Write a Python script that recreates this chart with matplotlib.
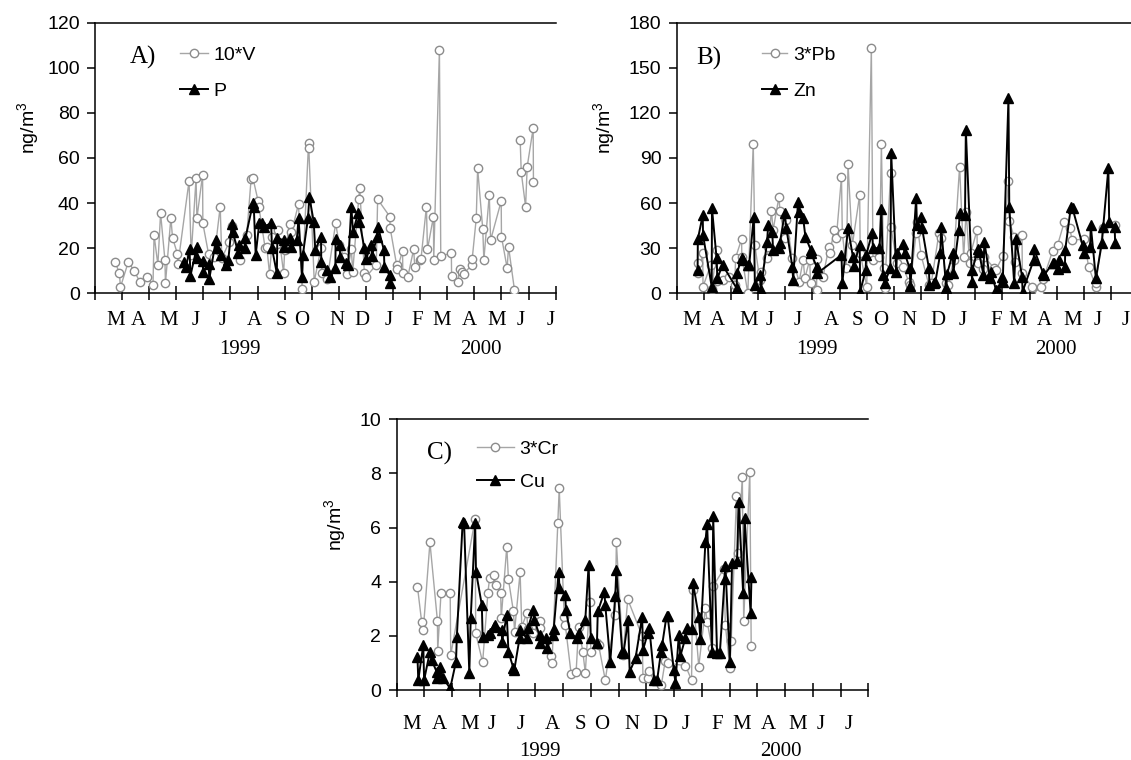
import numpy as np
import matplotlib
matplotlib.use('Agg')
import matplotlib.pyplot as plt

# x values are in months from the left axis edge (0 = start, 17 = end)
# panel A: 10*V and P
v_x = [0.74, 0.90, 0.94, 1.23, 1.44, 1.66, 1.92, 2.14, 2.18, 2.32, 2.42, 2.58, 2.60, 2.80, 2.86, 3.04, 3.06,
       3.47, 3.55, 3.73, 3.76, 3.97, 3.98, 4.19, 4.40, 4.62, 4.68, 4.96, 5.05, 5.36, 5.60, 5.76, 5.83, 6.02,
       6.05, 6.28, 6.34, 6.44, 6.55, 6.70, 6.76, 6.96, 7.00, 7.20, 7.25, 7.51, 7.64, 7.88, 7.89, 8.09, 8.34,
       8.38, 8.57, 8.88, 9.02, 9.18, 9.30, 9.46, 9.51, 9.73, 9.77, 9.94, 9.99, 10.38, 10.43, 10.88, 10.89,
       11.13, 11.15, 11.35, 11.36, 11.54, 11.76, 11.80, 12.01, 12.03, 12.23, 12.27, 12.49, 12.50, 12.71,
       12.76, 13.15, 13.16, 13.39, 13.46, 13.55, 13.61, 13.90, 13.92, 14.07, 14.12, 14.31, 14.35, 14.55,
       14.60, 14.99, 15.00, 15.21, 15.26, 15.48, 15.60, 15.69, 15.73, 15.89, 15.95, 16.17, 16.18]
v_y = [14, 8.9, 2.7, 14, 10, 5, 7.1, 3.7, 25.9, 12.6, 35.5, 14.8, 4.4, 33.5, 24.7, 17.5, 12.8,
       49.8, 17, 51, 33.3, 52.5, 31, 17.5, 16, 38.4, 15.5, 22.9, 30, 14.8, 25.9, 50.7, 51, 40.9,
       38.1, 20, 20.7, 8.6, 25, 22, 28, 8.9, 19.2, 30.7, 27, 39.6, 2, 66.8, 64.3, 5.2, 20,
       8.9, 6.2, 31, 21.4, 16.3, 8.6, 19.5, 9.6, 41.7, 46.6, 9.2, 7.1, 12.6, 41.7, 34, 29.1,
       12.6, 10.6, 18.8, 8.9, 7.1, 19.5, 11.8, 14.8, 15.2, 38.4, 19.5, 34, 14.8, 107.9,
       16.6, 17.7, 7.7, 5.2, 10.6, 9.6, 8.6, 12.6, 15.2, 33.3, 55.4, 28.4, 14.8, 43.6,
       23.6, 40.9, 25.1, 11.1, 20.7, 1.5, np.nan, 68, 53.7, 38.4, 56.2, 73.2, 49.4]
p_x = [3.30, 3.36, 3.49, 3.52, 3.76, 3.78, 3.97, 3.99, 4.19, 4.22, 4.46, 4.49, 4.66, 4.84, 4.92, 5.05,
       5.08, 5.29, 5.31, 5.53, 5.55, 5.83, 5.86, 5.93, 6.06, 6.17, 6.22, 6.50, 6.53, 6.71, 6.73, 6.96,
       6.98, 7.21, 7.23, 7.45, 7.51, 7.64, 7.67, 7.86, 7.91, 8.07, 8.13, 8.34, 8.35, 8.56, 8.66, 8.87,
       8.88, 9.03, 9.05, 9.28, 9.34, 9.46, 9.52, 9.71, 9.76, 9.94, 10.00, 10.19, 10.22, 10.41, 10.44,
       10.66, 10.68, 10.87, 10.88]
p_y = [14, 11.8, 19.5, 7.7, 20.5, 15.5, 14.5, 9.5, 13, 6.5, 23.5, 20, 17, 12.6, 14.8, 30.7,
       27.3, 17.7, 21.4, 20, 24.4, 40, 38.4, 17, 31, 31, 29.6, 31, 20, 8.9, 24.4, 23.6,
       20.7, 24.4, 20.7, 23.6, 33.3, 7.4, 17, 33.3, 42.9, 31.8, 19.2, 25.1, 14, 10.3, 7.4, 11.1,
       23.9, 21.4, 16, 13.3, 12.6, 38.4, 27.3, 35.5, 31.8, 20, 15.1, 21.4, 16.6, 25.1, 29.6,
       19.2, 11.8, 8.1, 4.7]

# panel B: 3*Pb and Zn
pb_x = [0.77, 0.80, 0.96, 0.97, 1.25, 1.29, 1.47, 1.50, 1.72, 1.94, 2.14, 2.17, 2.39, 2.40, 2.62, 2.82,
        2.88, 3.06, 3.12, 3.33, 3.37, 3.49, 3.55, 3.77, 3.80, 3.98, 4.04, 4.26, 4.51, 4.66, 4.72, 4.90,
        4.93, 5.15, 5.17, 5.39, 5.61, 5.64, 5.80, 5.88, 6.07, 6.10, 6.25, 6.31, 6.47, 6.74, 6.76, 7.00,
        7.17, 7.23, 7.47, 7.54, 7.62, 7.66, 7.88, 7.89, 8.11, 8.33, 8.55, 8.60, 8.82, 8.85, 9.00, 9.29,
        9.38, 9.66, 9.74, 9.93, 9.99, 10.20, 10.42, 10.57, 10.66, 10.79, 10.83, 11.06, 11.08, 11.29,
        11.32, 11.70, 11.76, 12.01, 12.22, 12.25, 12.43, 12.46, 12.72, 12.73, 13.09, 13.36, 13.42,
        13.50, 13.85, 14.03, 14.28, 14.48, 14.56, 15.01, 15.17, 15.44, 15.45, 15.69, 16.15]
pb_y = [20, 13.3, 26.6, 4.4, 18.8, 2.7, 28.8, 8, 8.9, 11.1, 5.5, 23.7, 36, 24.4, 0, 99.3,
        32.1, 8.9, 14.4, 23.3, 31, 55, 42, 64.3, 55, 36.6, 48.8, 23.3, 7.8, 22.2, 10, 22.2,
        6.7, 2.2, 22.6, 11.1, 31, 26.6, 42.1, 36.6, 77.6, 40, 16.6, 86, 32.1, 65.4, 26.6, 4.4,
        163.4, 22.2, 24.4, 99.1, 16.6, 3.3, 79.8, 44.3, 20, 17.7, 7.8, 5.5, 40, 47.7, 25.5, 5.5,
        7.1, 40, 36.6, 7.1, 5.5, 22.2, 84.2, 23.9, 54.3, 20, 26.6, 42.1, 20, 16,
        24.4, 16.6, 15.5, 24.8, 74.7, 48.3, 37.2, 21, 38.8, 13.3, 4, 0, 4.4,
        9.3, 28.4, 32.1, 47.7, 43.2, 35.5, 35.9, 17.7, 4.4, 6.7, 43.2, 45.4]
zn_x = [0.77, 0.78, 0.96, 0.97, 1.29, 1.30, 1.47, 1.50, 1.69, 2.21, 2.22, 2.39, 2.43, 2.63, 2.67, 2.84,
        2.88, 3.06, 3.10, 3.33, 3.37, 3.52, 3.55, 3.77, 3.80, 3.98, 4.04, 4.26, 4.29, 4.47, 4.51, 4.66,
        4.74, 4.94, 4.96, 5.15, 5.18, 6.07, 6.10, 6.31, 6.49, 6.52, 6.74, 6.76, 6.96, 6.98, 7.20, 7.23,
        7.47, 7.54, 7.60, 7.66, 7.87, 7.90, 8.09, 8.11, 8.33, 8.40, 8.58, 8.61, 8.82, 8.85, 9.00, 9.04,
        9.29, 9.31, 9.49, 9.53, 9.71, 9.74, 9.93, 9.96, 10.17, 10.19, 10.39, 10.42, 10.62, 10.65,
        10.88, 10.89, 11.09, 11.13, 11.30, 11.33, 11.54, 11.58, 11.76, 11.82, 11.99, 12.01, 12.22,
        12.25, 12.43, 12.50, 12.72, 12.74, 13.15, 13.16, 13.50, 13.54, 13.85, 13.91, 14.03, 14.09,
        14.30, 14.31, 14.52, 14.58, 14.95, 15.01, 15.23, 15.25, 15.44, 15.66, 15.71, 15.90, 15.93,
        16.13, 16.15]
zn_y = [15.5, 36, 52.1, 38.8, 4.4, 56.5, 23.3, 10, 18.8, 3.3, 13.3, 23.3, 22.2, 18.8, 18.8, 51,
        5.5, 12.2, 2.2, 34.4, 45.4, 41, 28.8, 30, 33.3, 53.2, 43.2, 17.7, 8.9, 61, 54.3, 49.9,
        37.7, 28.8, 26.6, 17.7, 13.3, 25.5, 6.7, 43.2, 24.4, 18.2, 32.1, 1.1, 15.5, 25.5, 40, 30,
        30, 55.9, 12.2, 7.1, 16.6, 93.6, 14.4, 26.6, 32.8, 26.6, 16.6, 4.9, 63.2, 45.4, 51, 43.2,
        16.6, 5.5, 6.7, 7.8, 26.6, 44.3, 3.3, 12.9, 26.6, 13.7, 42.1, 53.2, 52.1, 108.6,
        7.8, 15.5, 29.3, 27.7, 12.2, 34.4, 10, 14.4, 2.2, 2.2, 11.1, 7.8, 129.7,
        57.6, 6.7, 35.9, 11.1, 1.1, 22.2, 29.3, 13.3, 12.2, 20, 20, 16, 22.2,
        17.7, 28.8, 57.6, 56.5, 32.1, 26.6, 30.6, 45.4, 10, 33.3, 44.3, 83.1, 47.7,
        44.3, 33.7]

# panel C: 3*Cr and Cu
cr_x = [0.75, 0.90, 0.96, 1.20, 1.47, 1.48, 1.60, 1.93, 1.95, 2.83, 2.85, 3.10, 3.29, 3.35, 3.51, 3.57,
        3.75, 3.77, 3.97, 4.03, 4.21, 4.25, 4.45, 4.51, 4.69, 4.73, 4.93, 5.15, 5.17, 5.57, 5.60, 5.81,
        5.86, 6.04, 6.08, 6.29, 6.47, 6.56, 6.71, 6.80, 6.96, 7.00, 7.22, 7.28, 7.52, 7.88, 7.92, 8.16,
        8.33, 8.85, 8.88, 9.05, 9.11, 9.54, 9.68, 9.77, 10.41, 10.63, 10.67, 10.89, 11.13, 11.19,
        11.37, 11.41, 11.79, 11.85, 12.01, 12.06, 12.25, 12.31, 12.46, 12.51, 12.73, 12.78]
cr_y = [3.82, 2.53, 2.22, 5.45, 2.56, 1.44, 3.6, 3.6, 1.3, 6.32, 2.1, 1.02, 3.6, 4.13, 4.23, 3.88,
        3.6, 2.65, 5.3, 4.09, 2.9, 2.16, 4.35, 2.34, 2.83, 2.24, 2.1, 2.56, 2.28, 1.26, 1.01, 6.18,
        7.45, 2.7, 2.4, 0.59, 0.68, 2.32, 1.42, 0.64, 3.26, 1.42, 1.72, 1.66, 0.37, 2.77, 5.45, 1.29,
        3.35, 2.0, 0.43, 0.43, 0.7, 0.18, 1.07, 0.99, 0.9, 0.37, 3.7, 0.86, 3.02, 2.53,
        1.54, 3.84, 4.47, 2.4, 0.8, 1.82, 7.17, 5.05, 7.88, 2.56, 8.07, 1.63]
cu_x = [0.75, 0.78, 0.96, 0.99, 1.20, 1.26, 1.44, 1.47, 1.56, 1.68, 1.93, 2.14, 2.17, 2.38, 2.43, 2.62,
        2.67, 2.83, 2.86, 3.07, 3.10, 3.31, 3.35, 3.51, 3.55, 3.79, 3.80, 3.97, 4.03, 4.21, 4.24, 4.43,
        4.45, 4.69, 4.73, 4.93, 4.96, 5.15, 5.17, 5.39, 5.42, 5.62, 5.66, 5.84, 5.87, 6.08, 6.10, 6.26,
        6.50, 6.56, 6.80, 6.92, 7.00, 7.22, 7.25, 7.49, 7.52, 7.70, 7.88, 7.92, 8.13, 8.18, 8.34, 8.40,
        8.61, 8.85, 8.88, 9.05, 9.11, 9.29, 9.39, 9.53, 9.57, 9.73, 9.77, 9.99, 10.05, 10.17, 10.23,
        10.41, 10.47, 10.65, 10.68, 10.89, 10.95, 11.13, 11.19, 11.37, 11.41, 11.55, 11.65, 11.82,
        11.85, 12.01, 12.09, 12.27, 12.33, 12.49, 12.54, 12.76, 12.79]
cu_y = [1.23, 0.37, 1.66, 0.37, 1.42, 1.11, 0.68, 0.43, 0.86, 0.43, 0.06, 1.05, 1.97, 6.22, 6.16, 0.62,
        2.65, 6.16, 4.37, 3.14, 1.97, 2.03, 2.1, 2.34, 2.4, 2.22, 1.79, 2.77, 1.42, 0.8, 0.74, 1.91,
        2.22, 1.91, 2.28, 2.96, 2.59, 2.03, 1.72, 1.91, 1.54, 2.03, 2.24, 4.37, 3.76, 3.51, 2.96, 2.1,
        1.91, 2.1, 2.59, 4.62, 1.91, 1.72, 2.9, 3.63, 3.14, 1.05, 3.47, 4.44, 1.42, 1.38, 2.59, 0.68,
        1.17, 2.71, 1.48, 2.09, 2.28, 0.37, 0.37, 1.42, 1.66, 2.75, 2.73, 0.74, 0.27, 2.03, 1.27,
        1.93, 2.28, 2.24, 3.97, 2.71, 1.87, 5.48, 6.14, 1.42, 6.41, 1.36, 1.36, 4.09,
        4.58, 1.05, 4.68, 4.77, 6.94, 3.57, 6.37, 2.83, 4.16]

months = ['M', 'A', 'M', 'J', 'J', 'A', 'S', 'O', 'N', 'D', 'J', 'F', 'M', 'A', 'M', 'J', 'J']
# where the month letters sit under each panel (in months)
pos_a = [0.78, 1.60, 2.73, 3.70, 4.72, 5.89, 6.87, 7.64, 8.93, 9.86, 10.82, 11.89, 12.81, 13.82, 14.84, 15.71, 16.82]
pos_b = [0.55, 1.51, 2.64, 3.43, 4.47, 5.71, 6.67, 7.50, 8.55, 9.62, 10.54, 11.76, 12.56, 13.54, 14.58, 15.50, 16.54]
pos_c = [0.54, 1.54, 2.62, 3.43, 4.48, 5.63, 6.62, 7.40, 8.48, 9.48, 10.43, 11.55, 12.43, 13.39, 14.44, 15.28, 16.28]

plt.rcParams['font.family'] = ['Liberation Sans', 'DejaVu Sans']
plt.rcParams['mathtext.fontset'] = 'custom'
plt.rcParams['mathtext.rm'] = 'Liberation Sans'
serif = ['Liberation Serif', 'DejaVu Serif']

fig = plt.figure(figsize=(11.31, 7.6), dpi=100)
axA = fig.add_axes([0.0840, 0.6141, 0.4073, 0.3561])
axB = fig.add_axes([0.5983, 0.6141, 0.4081, 0.3561])
axC = fig.add_axes([0.3507, 0.0921, 0.4170, 0.3562])


def panel(ax, gx, gy, gname, bx, by, bname, ymax, ystep, letter, mpos,
          years, ylet, yyear, lab_xy, leg_xy, hlen, lsp):
    ax.plot(gx, gy, color='#a6a6a6', lw=1.0, marker='o', ms=6, mfc='white',
            mec='#8c8c8c', mew=1.0, label=gname, zorder=3)
    ax.plot(bx, by, color='black', lw=1.4, marker='^', ms=7, mfc='black',
            mec='black', label=bname, zorder=4)
    ax.set_xlim(0, 17)
    ax.set_ylim(0, ymax)
    ax.set_xticks(np.arange(0, 18))
    ax.set_xticklabels([])
    ax.set_yticks(np.arange(0, ymax + 1, ystep))
    ax.tick_params(axis='x', direction='inout', length=10, width=1.1)
    ax.tick_params(axis='y', direction='out', length=6, width=1.1, labelsize=14, pad=5)
    ax.spines['right'].set_visible(False)
    for s in ['top', 'bottom', 'left']:
        ax.spines[s].set_linewidth(1.1)
    tr = ax.get_xaxis_transform()
    for m, p in zip(months, mpos):
        ax.text(p, ylet, m, transform=tr, ha='center', va='center',
                fontsize=15, family=serif, clip_on=False)
    for yr, p in years:
        ax.text(p, yyear, yr, transform=tr, ha='center', va='center',
                fontsize=15, family=serif)
    ax.text(lab_xy[0], lab_xy[1], letter, transform=ax.transAxes, ha='center',
            va='center', fontsize=18, family=serif)
    ax.legend(loc='upper left', bbox_to_anchor=leg_xy, frameon=False, fontsize=14,
              handlelength=hlen, handletextpad=0.3, labelspacing=lsp, borderpad=0,
              borderaxespad=0, numpoints=1)


panel(axA, v_x, v_y, '10*V', p_x, p_y, 'P', 120, 20, 'A)', pos_a,
      [('1999', 5.35), ('2000', 14.25)], -0.10, -0.207, (0.103, 0.872), (0.184, 0.913), 1.45, 0.95)
panel(axB, pb_x, pb_y, '3*Pb', zn_x, zn_y, 'Zn', 180, 30, 'B)', pos_b,
      [('1999', 5.15), ('2000', 13.97)], -0.10, -0.207, (0.070, 0.869), (0.185, 0.913), 1.3, 0.95)
panel(axC, cr_x, cr_y, '3*Cr', cu_x, cu_y, 'Cu', 10, 2, 'C)', pos_c,
      [('1999', 5.15), ('2000', 13.84)], -0.129, -0.229, (0.091, 0.875), (0.170, 0.922), 1.9, 0.8)

for ax, xpos in [(axA, -0.143), (axB, -0.157), (axC, -0.129)]:
    ax.text(xpos, 0.61, 'ng/m$^3$', transform=ax.transAxes, rotation=90,
            ha='center', va='center', fontsize=14)

fig.savefig('out.png', dpi=100)
